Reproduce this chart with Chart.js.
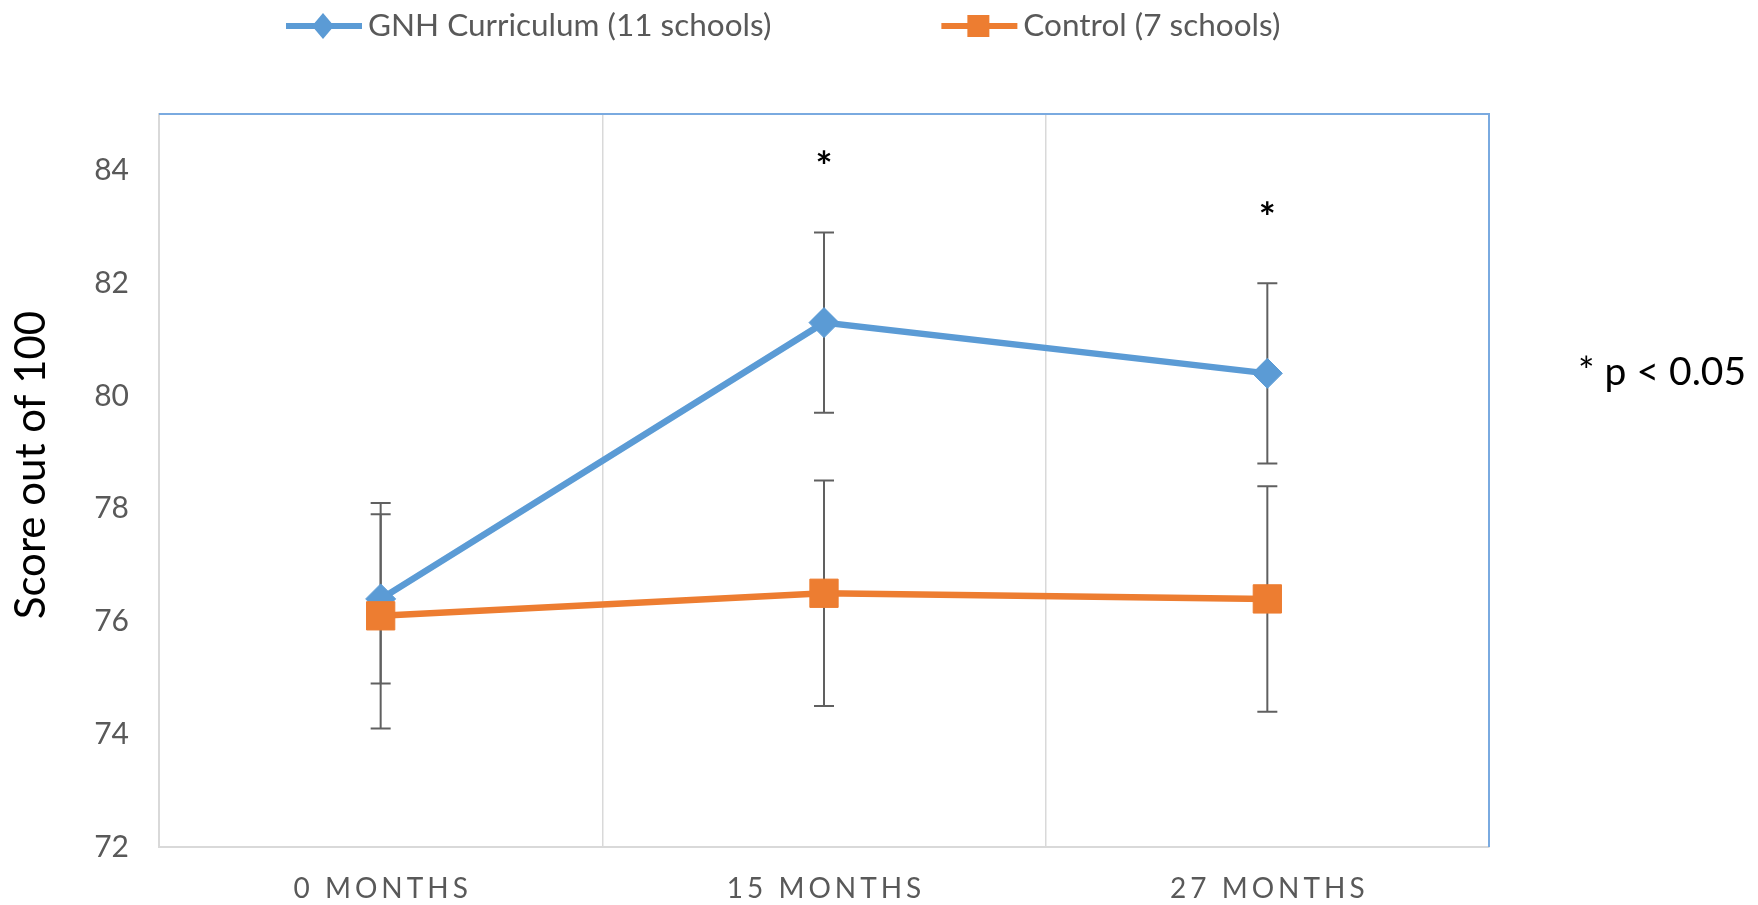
<!DOCTYPE html>
<html>
<head>
<meta charset="utf-8">
<script src="https://cdn.jsdelivr.net/npm/chart.js@4.4.1/dist/chart.umd.min.js"></script>
<style>
    html, body { margin: 0; padding: 0; background: #ffffff; }
    #wrap { width: 1758px; height: 905px; position: relative; }
</style>
</head>
<body>
<div id="wrap"><canvas id="scoreChart"></canvas></div>
<script>
// Data
const categories = ['0 MONTHS', '15 MONTHS', '27 MONTHS'];
const gnhScores = [76.4, 81.3, 80.4];
const gnhErrors = [1.5, 1.6, 1.6];
const controlScores = [76.1, 76.5, 76.4];
const controlErrors = [2.0, 2.0, 2.0];
const significant = [false, true, true];
const seriesLabels = ['GNH Curriculum (11 schools)', 'Control (7 schools)'];
const yMin = 72;
const yMax = 85;
const yStep = 2;
const yTitle = 'Score out of 100';
const noteText = '* p < 0.05';

const BLUE = '#5b9bd5';
const ORANGE = '#ed7d31';
const GREY_TEXT = '#595959';
const CALIBRI = 'Lato, "Open Sans", sans-serif';

/**
 * Vertical error bars, drawn behind the markers
 */
const errorBarPlugin = {
    id: 'errorBars',
    beforeDatasetsDraw(chart) {
        const ctx = chart.ctx;
        const y = chart.scales.y;
        ctx.save();
        ctx.strokeStyle = '#606060';
        ctx.lineWidth = 2;
        chart.data.datasets.forEach((ds, i) => {
            const meta = chart.getDatasetMeta(i);
            meta.data.forEach((pt, j) => {
                const top = y.getPixelForValue(ds.data[j] + ds.errors[j]);
                const bot = y.getPixelForValue(ds.data[j] - ds.errors[j]);
                ctx.beginPath();
                ctx.moveTo(pt.x, top);
                ctx.lineTo(pt.x, bot);
                ctx.moveTo(pt.x - 10, top);
                ctx.lineTo(pt.x + 10, top);
                ctx.moveTo(pt.x - 10, bot);
                ctx.lineTo(pt.x + 10, bot);
                ctx.stroke();
            });
        });
        // blue frame on top and right of the plot area
        const a = chart.chartArea;
        ctx.strokeStyle = '#7aaae0';
        ctx.lineWidth = 2;
        ctx.beginPath();
        ctx.moveTo(a.left, a.top);
        ctx.lineTo(a.right, a.top);
        ctx.lineTo(a.right, a.bottom);
        ctx.stroke();
        ctx.restore();
    }
};

/**
 * Category labels, axis title, significance stars, legend and note
 */
const annotationPlugin = {
    id: 'annotations',
    afterDraw(chart) {
        const ctx = chart.ctx;
        const x = chart.scales.x;
        const y = chart.scales.y;
        ctx.save();

        // spaced category labels
        ctx.fillStyle = GREY_TEXT;
        ctx.font = '28px ' + CALIBRI;
        ctx.letterSpacing = '4px';
        ctx.textAlign = 'center';
        ctx.textBaseline = 'middle';
        categories.forEach((c, i) => {
            ctx.fillText(c, x.getPixelForValue(i) + 2, 889);
        });
        ctx.letterSpacing = '0px';

        // rotated y axis title
        ctx.save();
        ctx.translate(31, 465);
        ctx.rotate(-Math.PI / 2);
        ctx.fillStyle = '#000000';
        ctx.font = '42px ' + CALIBRI;
        ctx.fillText(yTitle, 0, 0);
        ctx.restore();

        // significance stars above the GNH error bars
        ctx.fillStyle = '#000000';
        ctx.font = 'bold 40px ' + CALIBRI;
        significant.forEach((s, i) => {
            if (!s) return;
            const top = y.getPixelForValue(gnhScores[i] + gnhErrors[i]);
            ctx.fillText('*', x.getPixelForValue(i), top - 64);
        });

        // note on the right
        ctx.font = '39px ' + CALIBRI;
        ctx.textAlign = 'left';
        ctx.fillText(noteText, 1578, 372);

        // legend: line with marker, then text
        const ds = chart.data.datasets;
        let lx = 286;
        const ly = 26;
        ctx.font = '31.5px ' + CALIBRI;
        ctx.textBaseline = 'middle';
        ds.forEach((d) => {
            ctx.strokeStyle = d.borderColor;
            ctx.fillStyle = d.borderColor;
            ctx.lineWidth = 6;
            ctx.beginPath();
            ctx.moveTo(lx, ly);
            ctx.lineTo(lx + 76, ly);
            ctx.stroke();
            const mx = lx + 37;
            ctx.beginPath();
            if (d.pointStyle === 'rectRot') {
                ctx.moveTo(mx - 11, ly);
                ctx.lineTo(mx, ly - 13);
                ctx.lineTo(mx + 11, ly);
                ctx.lineTo(mx, ly + 13);
                ctx.closePath();
            } else {
                ctx.rect(mx - 11, ly - 11, 22, 22);
            }
            ctx.fill();
            ctx.fillStyle = GREY_TEXT;
            ctx.fillText(d.label, lx + 82, ly);
            lx += 82 + ctx.measureText(d.label).width + 170;
        });

        ctx.restore();
    }
};

const canvas = document.getElementById('scoreChart');

new Chart(canvas, {
    type: 'line',
    data: {
        labels: categories,
        datasets: [
            {
                label: seriesLabels[0],
                data: gnhScores,
                errors: gnhErrors,
                borderColor: BLUE,
                backgroundColor: BLUE,
                borderWidth: 6.5,
                pointStyle: 'rectRot',
                pointRadius: 15,
                pointBorderWidth: 1,
                pointHoverRadius: 15,
                order: 2
            },
            {
                label: seriesLabels[1],
                data: controlScores,
                errors: controlErrors,
                borderColor: ORANGE,
                backgroundColor: ORANGE,
                borderWidth: 6.5,
                pointStyle: 'rect',
                pointRadius: 20,
                pointBorderWidth: 1,
                pointHoverRadius: 20,
                order: 1
            }
        ]
    },
    options: {
        responsive: true,
        maintainAspectRatio: false,
        animation: false,
        layout: {
            padding: { top: 114, right: 269, bottom: 0, left: 0 }
        },
        plugins: {
            legend: { display: false },
            tooltip: { enabled: false }
        },
        scales: {
            x: {
                offset: true,
                grid: {
                    offset: true,
                    color: '#d9d9d9',
                    lineWidth: 1.5,
                    drawTicks: false
                },
                border: { color: '#d9d9d9', width: 2 },
                ticks: { display: false },
                afterFit: (scale) => { scale.height = 58; }
            },
            y: {
                min: yMin,
                max: yMax,
                grid: { display: false, drawTicks: false },
                border: { color: '#d9d9d9', width: 2 },
                ticks: {
                    stepSize: yStep,
                    includeBounds: false,
                    padding: 30,
                    color: GREY_TEXT,
                    font: { family: CALIBRI, size: 30 }
                },
                afterFit: (scale) => { scale.width = 159; }
            }
        }
    },
    plugins: [errorBarPlugin, annotationPlugin]
});
</script>
</body>
</html>
